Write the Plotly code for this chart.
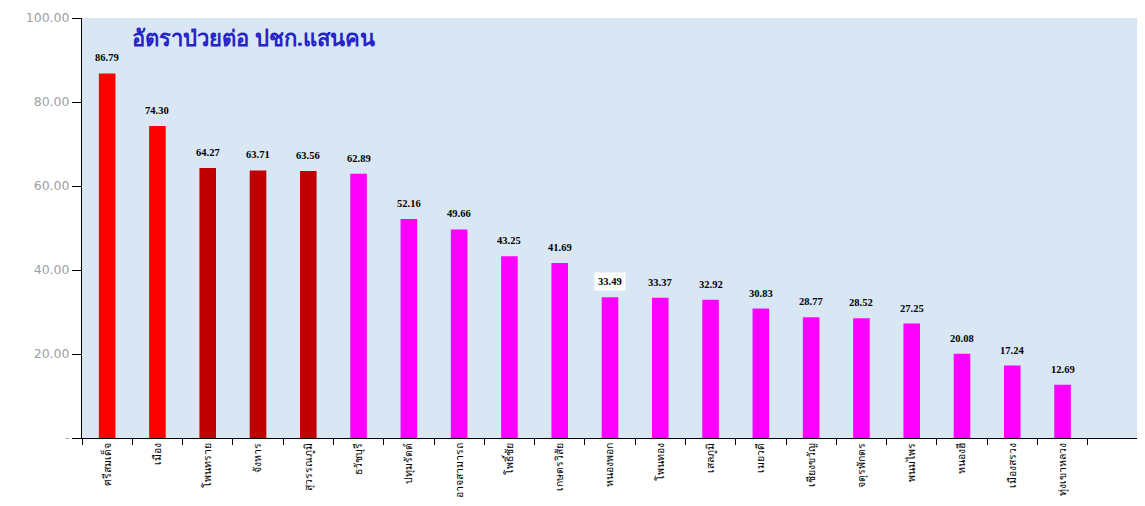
import plotly.graph_objects as go

categories = ["ศรีสมเด็จ", "เมือง", "โพนทราย", "จังหาร", "สุวรรณภูมิ", "ธวัชบุรี", "ปทุมรัตต์",
              "อาจสามารถ", "โพธิ์ชัย", "เกษตรวิสัย", "หนองพอก", "โพนทอง", "เสลภูมิ", "เมยวดี",
              "เชียงขวัญ", "จตุรพักตร", "พนมไพร", "หนองฮี", "เมืองสรวง", "ทุ่งเขาหลวง"]
values = [86.79, 74.30, 64.27, 63.71, 63.56, 62.89, 52.16, 49.66, 43.25, 41.69,
          33.49, 33.37, 32.92, 30.83, 28.77, 28.52, 27.25, 20.08, 17.24, 12.69]
bar_colors = ["#FF0000", "#FF0000", "#C00000", "#C00000", "#C00000"] + ["#FF00FF"] * 15
y_ticks = [0, 20, 40, 60, 80, 100]
y_tick_labels = ["-", "20.00", "40.00", "60.00", "80.00", "100.00"]
title_text = "อัตราป่วยต่อ ปชก.แสนคน"

x_cats = categories + [" "]

fig = go.Figure()
fig.add_trace(go.Bar(
    x=categories, y=values,
    marker=dict(color=bar_colors, line=dict(width=0)),
    width=0.33,
    hoverinfo="x+y",
))
# empty slot at the right end
fig.add_trace(go.Bar(x=[" "], y=[0], marker=dict(color="rgba(0,0,0,0)"), showlegend=False))

annotations = []
for c, v in zip(categories, values):
    annotations.append(dict(
        x=c, y=v, xref="x", yref="y", text=f"<b>{v:.2f}</b>", showarrow=False,
        yanchor="bottom", yshift=6,
        font=dict(family="Liberation Serif", size=10.5, color="black"),
        bgcolor="white" if c == "หนองพอก" else None,
        borderpad=3,
    ))
annotations.append(dict(
    x=0.045, y=0.995, xref="paper", yref="paper", xanchor="left", yanchor="top",
    text=f"<b>{title_text}</b>", showarrow=False,
    font=dict(family="Noto Sans", size=22, color="#2424C8"),
))

fig.update_layout(
    width=1137, height=498,
    margin=dict(l=74, r=7, t=10, b=68),
    paper_bgcolor="white",
    plot_bgcolor="#D9E6F4",
    showlegend=False,
    barmode="overlay",
    annotations=annotations,
    xaxis=dict(
        categoryorder="array", categoryarray=x_cats,
        tickangle=-90, tickson="boundaries", ticks="outside", ticklen=6,
        tickcolor="black", showline=True, linecolor="black", linewidth=1,
        tickfont=dict(family="Noto Sans", size=10.5, color="black"),
        showgrid=False, automargin=False,
    ),
    yaxis=dict(
        range=[0, 100], tickvals=y_ticks, ticktext=y_tick_labels,
        ticks="outside", ticklen=9, tickcolor="black",
        showline=True, linecolor="black", linewidth=1,
        tickfont=dict(family="DejaVu Sans", size=12.5, color="#A0A0A0"),
        showgrid=False, zeroline=False, automargin=False,
    ),
)

fig.write_html("out.html")
